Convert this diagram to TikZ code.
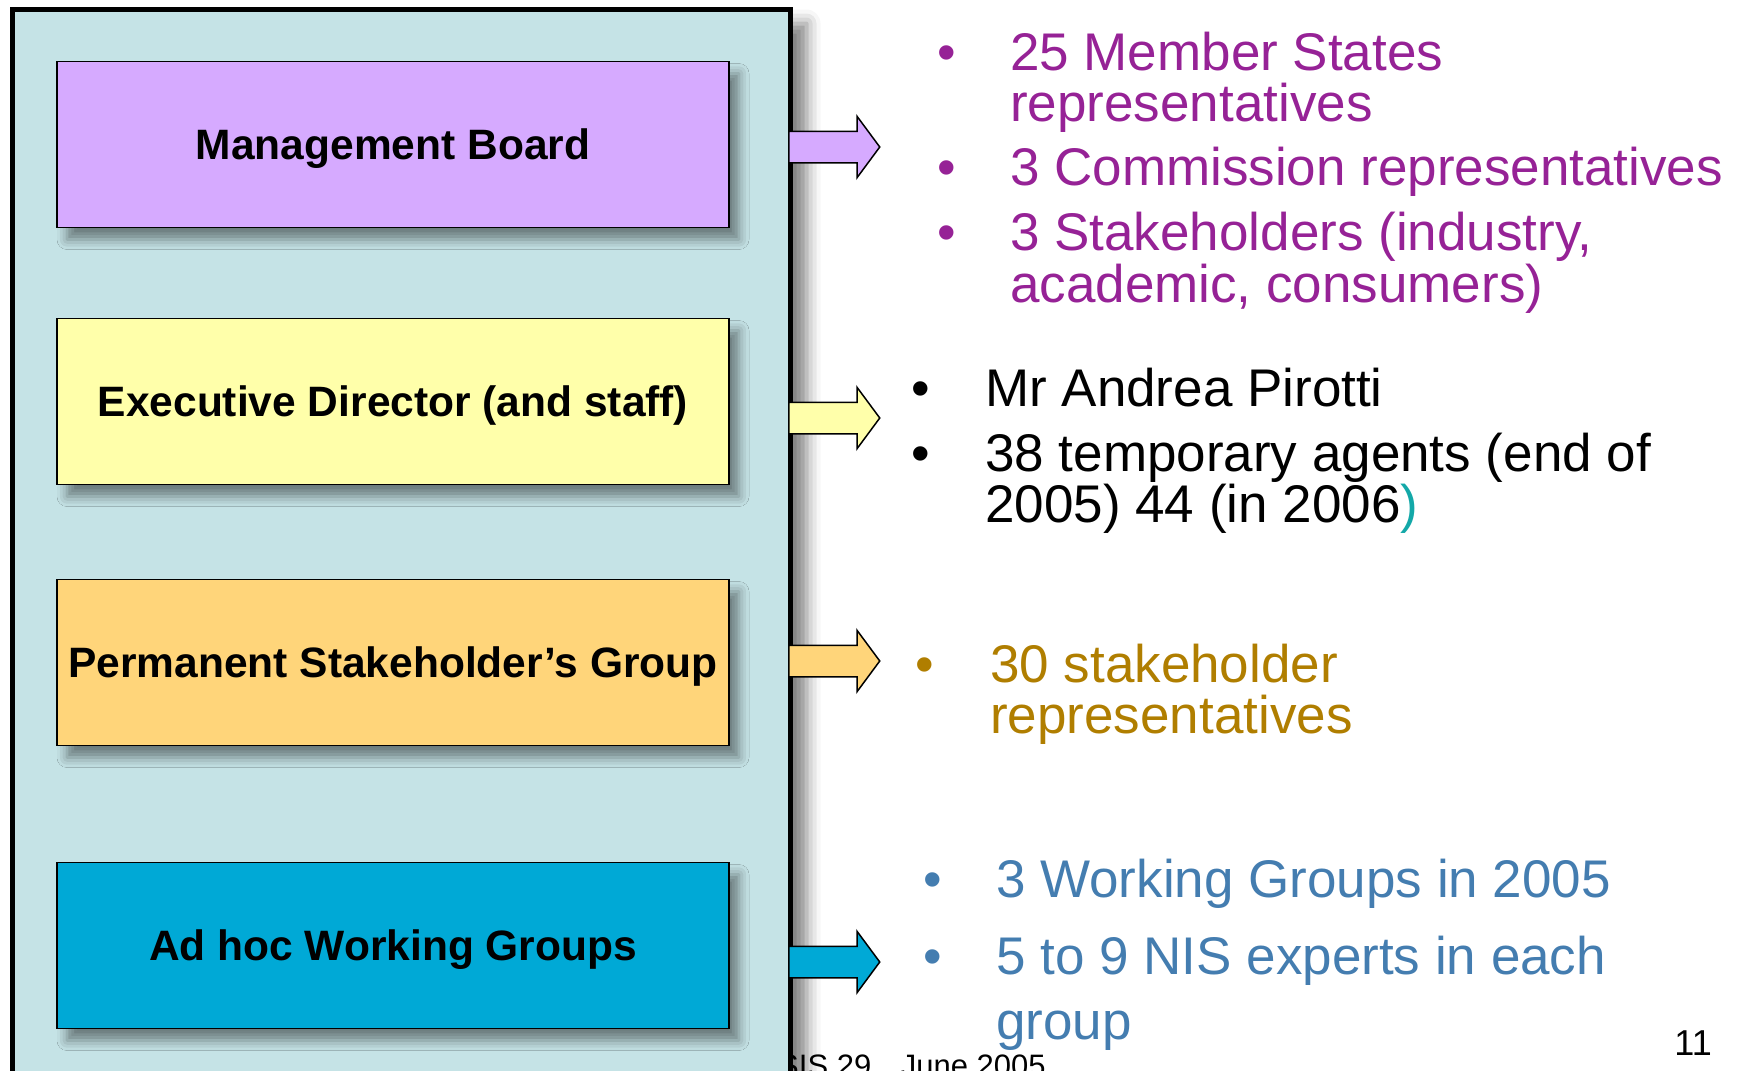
\documentclass[tikz,border=0pt]{standalone}
\usepackage{fontspec}
\setmainfont{Liberation Sans}
\usetikzlibrary{positioning,shapes.arrows,shadows.blur}

\definecolor{panelcyan}{RGB}{197,227,230}
\definecolor{boardlilac}{RGB}{214,170,255}
\definecolor{directoryellow}{RGB}{255,255,170}
\definecolor{stakeorange}{RGB}{255,213,122}
\definecolor{groupblue}{RGB}{0,169,214}
\definecolor{boardtext}{RGB}{150,34,150}
\definecolor{staketext}{RGB}{176,126,0}
\definecolor{grouptext}{RGB}{68,125,176}
\definecolor{parencyan}{RGB}{19,168,168}

\begin{document}
\begin{tikzpicture}[x=1pt, y=-1pt,
    panel/.style={draw, line width=5pt, fill=panelcyan, inner sep=0pt,
      blur shadow={shadow xshift=16pt, shadow yshift=-14pt, shadow blur radius=14pt, shadow opacity=50}},
    block/.style={draw, line width=1.5pt, inner sep=0pt, minimum width=672pt, minimum height=166pt,
      text height=30.5pt, text depth=0pt,
      font=\fontsize{42.5}{50}\selectfont\bfseries,
      blur shadow={shadow xshift=10pt, shadow yshift=-12pt, shadow blur radius=10pt, shadow opacity=45}},
    pointer/.style={single arrow, draw, line width=1.5pt, inner xsep=0pt, inner ysep=15pt, anchor=tail,
      minimum height=91pt, single arrow head extend=15pt,
      single arrow tip angle=107},
    item/.style={anchor=base west, inner sep=0pt},
    dot/.style={anchor=base, inner sep=0pt}
  ]
  \useasboundingbox (0,0) rectangle (1741,1071);
  \clip (0,0) rectangle (1741,1071);

  % footer sits under the panel edge
  \node[anchor=base west, inner sep=0pt, font=\fontsize{31}{31}\selectfont] (footer) at (778,1076) {SIS 29\hspace{21pt} June 2005};
  \node[anchor=base east, inner sep=0pt, font=\fontsize{36}{36}\selectfont] (pageno) at (1712,1055) {11};

  \node[panel, minimum width=778.5pt, minimum height=1110pt] (org) at (401.25,564.5) {};

  \node[block, fill=boardlilac] (board) at (393,144.5) {Management Board};
  \node[block, fill=directoryellow] (director) at (393,401.5) {Executive Director (and staff)};
  \node[block, fill=stakeorange] (stakeholders) at (393,662.5) {Permanent Stakeholder’s Group};
  \node[block, fill=groupblue] (groups) at (393,945.5) {Ad hoc Working Groups};

  \node[pointer, fill=boardlilac] (boardarrow) at (788,147) {};
  \node[pointer, fill=directoryellow] (directorarrow) at (788,418) {};
  \node[pointer, fill=stakeorange] (stakearrow) at (788,661) {};
  \node[pointer, fill=groupblue] (grouparrow) at (788,962) {};

  % Management Board members
  \begin{scope}[font=\fontsize{53}{53}\selectfont, text=boardtext]
    \node[dot] (bd1) at (947,70) {•};
    \node[item] (members) at (1010,70) {25 Member States};
    \node[item] (members2) at (1010,121) {representatives};
    \node[dot] (bd2) at (947,185) {•};
    \node[item] (commission) at (1010,185) {3 Commission representatives};
    \node[dot] (bd3) at (947,250) {•};
    \node[item] (interests) at (1010,250) {3 Stakeholders (industry,};
    \node[item] (interests2) at (1010,302) {academic, consumers)};
  \end{scope}

  % Executive Director
  \begin{scope}[font=\fontsize{53}{53}\selectfont, text=black]
    \node[dot] (ed1) at (921,406) {•};
    \node[item] (pirotti) at (985,406) {Mr Andrea Pirotti};
    \node[dot] (ed2) at (921,471) {•};
    \node[item] (agents) at (985,471) {38 temporary agents (end of};
    \node[item] (agents2) at (985,522) {2005) 44 (in 2006{\color{parencyan})}};
  \end{scope}

  % Stakeholder group
  \begin{scope}[font=\fontsize{53}{53}\selectfont, text=staketext]
    \node[dot] (psg1) at (925,682) {•};
    \node[item] (reps) at (990,682) {30 stakeholder};
    \node[item] (reps2) at (990,733) {representatives};
  \end{scope}

  % Working groups
  \begin{scope}[font=\fontsize{53}{53}\selectfont, text=grouptext]
    \node[dot] (wg1) at (933,897) {•};
    \node[item] (wgcount) at (996,897) {3 Working Groups in 2005};
    \node[dot] (wg2) at (933,974) {•};
    \node[item] (experts) at (996,974) {5 to 9 NIS experts in each};
    \node[item] (experts2) at (996,1039) {group};
  \end{scope}
\end{tikzpicture}
\end{document}
